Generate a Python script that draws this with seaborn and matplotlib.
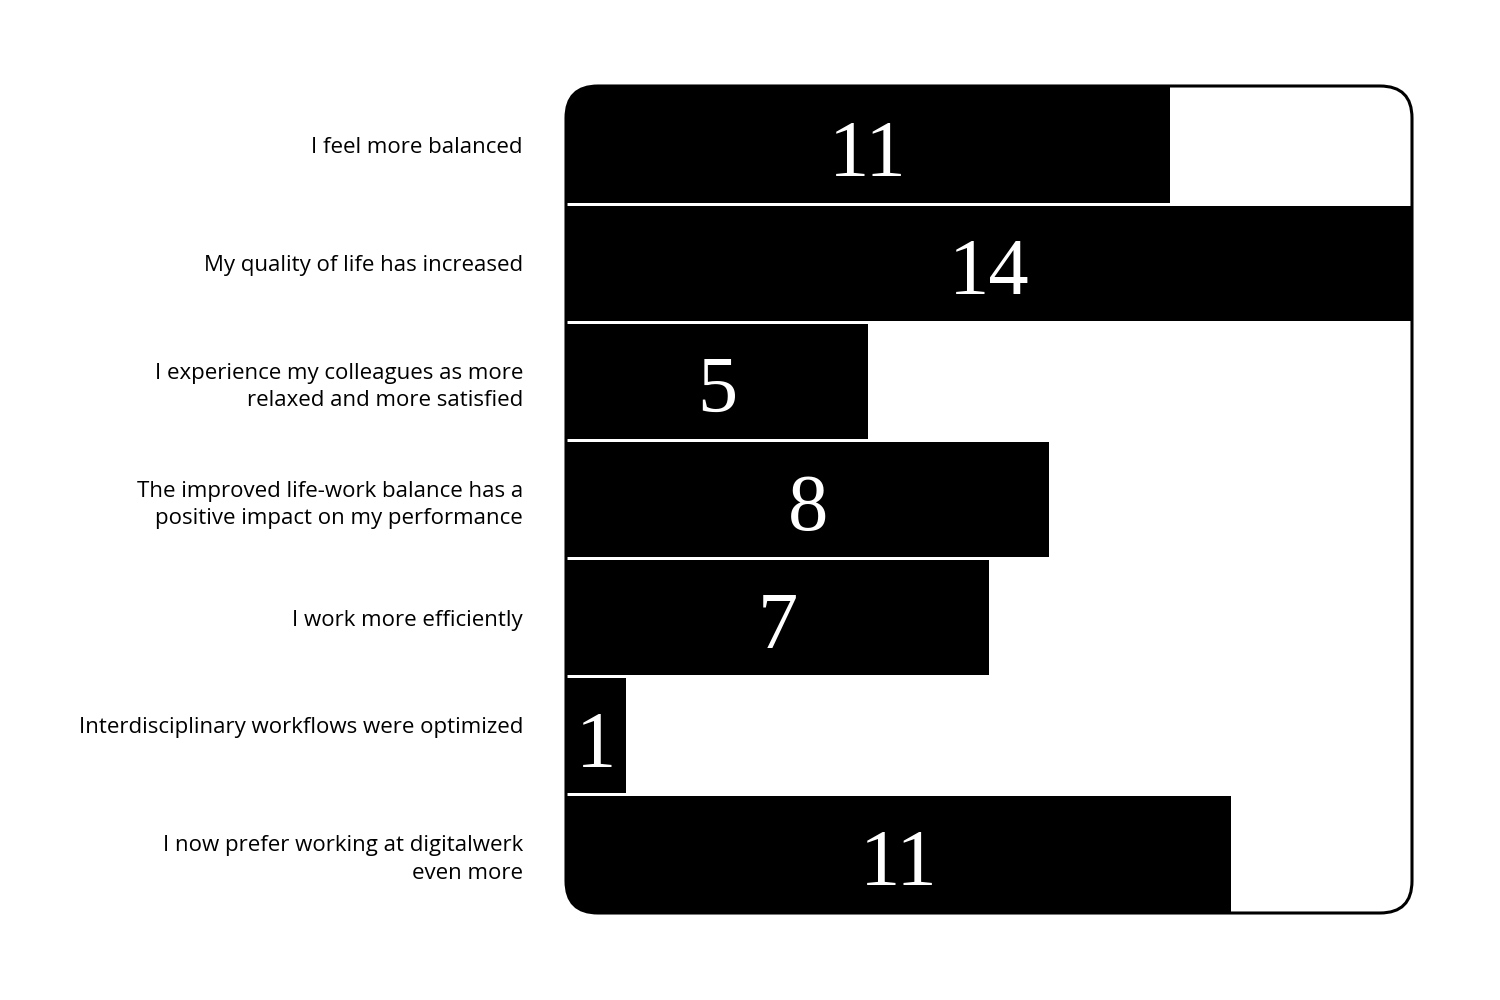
import matplotlib
matplotlib.use("Agg")
import matplotlib.pyplot as plt
import matplotlib.patches as mpatches
import seaborn as sns

# survey answers, top to bottom
categories = [
    "I feel more balanced",
    "My quality of life has increased",
    "I experience my colleagues as more\nrelaxed and more satisfied",
    "The improved life-work balance has a\npositive impact on my performance",
    "I work more efficiently",
    "Interdisciplinary workflows were optimized\n ",
    "I now prefer working at digitalwerk\neven more",
]
# bar lengths as drawn, and the numbers printed on them
bar_values = [10, 14, 5, 8, 7, 1, 11]
value_labels = ["11", "14", "5", "8", "7", "1", "11"]

sns.set_theme(style="white")
plt.rcParams["font.family"] = ["Open Sans", "DejaVu Sans"]

fig = plt.figure(figsize=(15, 10), dpi=100)
# axes box in inches: left 5.66, bottom 0.87, width 8.46, height 8.27
ax_l, ax_b, ax_w, ax_h = 5.66, 0.87, 8.46, 8.27
ax = fig.add_axes([ax_l / 15, ax_b / 10, ax_w / 15, ax_h / 10])

sns.barplot(x=bar_values, y=categories, orient="h", color="black",
            saturation=1, width=0.975, linewidth=0, ax=ax)

ax.set_xlim(0, 14)
ax.set_ylim(6.5, -0.5)
ax.set_xticks([])
ax.set_xlabel("")
ax.set_ylabel("")
for s in ax.spines.values():
    s.set_visible(False)
ax.tick_params(axis="y", length=0, pad=31, labelsize=16, labelcolor="black")
for t in ax.get_yticklabels():
    t.set_linespacing(1.4)

# rounded frame that also clips the bars
def rounded_box(**kw):
    return mpatches.FancyBboxPatch(
        (ax_l, ax_b), ax_w, ax_h,
        boxstyle="round,pad=0,rounding_size=0.32",
        transform=fig.dpi_scale_trans, **kw)

clip = rounded_box(facecolor="none", edgecolor="none")
fig.add_artist(clip)
clip.set_visible(False)
for p in ax.patches:
    p.set_clip_path(clip)

frame = rounded_box(facecolor="none", edgecolor="black", linewidth=2.2,
                    zorder=10)
fig.add_artist(frame)

for i, (v, lab) in enumerate(zip(bar_values, value_labels)):
    ax.text(v / 2, i + 0.26, lab, ha="center", va="baseline",
            color="white", fontsize=58, family="Liberation Serif")

fig.savefig("out.png", dpi=100, facecolor="white")
